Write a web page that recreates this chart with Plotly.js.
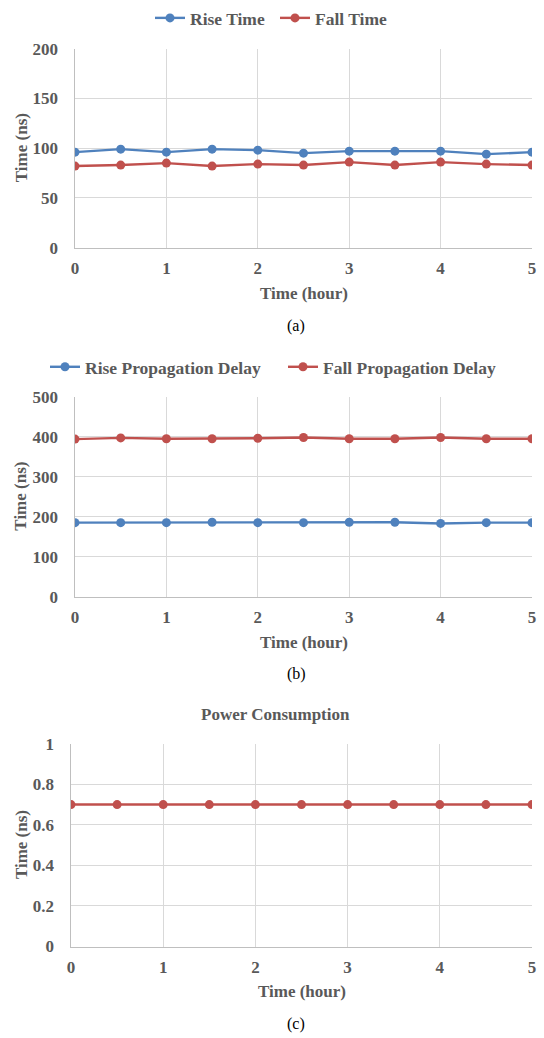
<!DOCTYPE html>
<html>
<head>
<meta charset="utf-8">
<script src="https://cdn.plot.ly/plotly-3.0.1.min.js"></script>
<style>html,body{margin:0;padding:0;background:#fff;}#chart{width:544px;height:1038px;}</style>
</head>
<body>
<div id="chart"></div>
<script>
// Shared x values (hours)
const hours = [0, 0.5, 1, 1.5, 2, 2.5, 3, 3.5, 4, 4.5, 5];
// (a) Rise / Fall time (ns)
const riseTime = [96, 99, 96, 99, 98, 95, 97, 97, 97, 94, 96];
const fallTime = [82, 83, 85, 82, 84, 83, 86, 83, 86, 84, 83];
// (b) Propagation delay (ns)
const risePropDelay = [185, 185, 185, 186, 185, 185, 186, 186, 183, 185, 185];
const fallPropDelay = [394, 397, 395, 395, 396, 398, 395, 395, 398, 395, 395];
// (c) Power consumption
const powerConsumption = [0.7, 0.7, 0.7, 0.7, 0.7, 0.7, 0.7, 0.7, 0.7, 0.7, 0.7];
// Labels
const seriesNamesA = ["Rise Time", "Fall Time"];
const seriesNamesB = ["Rise Propagation Delay", "Fall Propagation Delay"];
const titleC = "Power Consumption";
const xTitle = "Time (hour)";
const yTitle = "Time (ns)";
const captions = ["(a)", "(b)", "(c)"];

const W = 544, H = 1038;
const BLUE = "#4F81BD", RED = "#C0504D", GREY = "#595959";
const FONT = "Liberation Serif, Times New Roman, serif";
const py = p => 1 - p / H;
const px = p => p / W;

function line(x, y, name, color, xa, ya, legend, show) {
  return {x: x, y: y, name: name, type: "scatter", mode: "lines+markers",
    xaxis: xa, yaxis: ya, legend: legend, showlegend: show,
    line: {color: color, width: 2.4}, marker: {color: color, size: 9}};
}

const traces = [
  line(hours, riseTime, seriesNamesA[0], BLUE, "x", "y", "legend", true),
  line(hours, fallTime, seriesNamesA[1], RED, "x", "y", "legend", true),
  line(hours, risePropDelay, seriesNamesB[0], BLUE, "x2", "y2", "legend2", true),
  line(hours, fallPropDelay, seriesNamesB[1], RED, "x2", "y2", "legend2", true),
  line(hours, powerConsumption, titleC, RED, "x3", "y3", "legend", false)
];

function xax(domain, anchor) {
  return {domain: domain, anchor: anchor, range: [0, 5], dtick: 1, tick0: 0,
    showgrid: true, gridcolor: "#d9d9d9", gridwidth: 1, zeroline: false,
    showline: true, linecolor: "#bfbfbf", linewidth: 1.5, ticks: "",
    tickfont: {family: FONT, size: 17, color: GREY, weight: "bold"},
    ticklabelstandoff: 5};
}
function yax(domain, anchor, range, dtick) {
  return {domain: domain, anchor: anchor, range: range, dtick: dtick, tick0: 0,
    showgrid: true, gridcolor: "#d9d9d9", gridwidth: 1, zeroline: false,
    showline: true, linecolor: "#bfbfbf", linewidth: 1.5, ticks: "",
    tickfont: {family: FONT, size: 17, color: GREY, weight: "bold"},
    ticklabelstandoff: 12};
}

const legFont = {family: FONT, size: 17.5, color: GREY, weight: "bold"};
const titleFont = {family: FONT, size: 17, color: GREY};
const capFont = {family: FONT, size: 16, color: "#000"};

function ann(text, x, y, font, angle) {
  return {text: text, xref: "paper", yref: "paper", x: px(x), y: py(y),
    xanchor: "center", yanchor: "middle", showarrow: false, font: font,
    textangle: angle || 0};
}

// panel geometry (pixels): [top, bottom, left, right]
const panels = [[43, 243, 75, 532], [393, 594, 75, 532], [742, 946, 71, 532]];
const xTitleY = [289, 640, 991];
const captionY = [322, 672, 1024];

const annotations = [ann("<b>" + titleC + "</b>", 275, 713, titleFont)];
panels.forEach((p, i) => {
  annotations.push(ann("<b>" + xTitle + "</b>", (p[2] + p[3]) / 2, xTitleY[i], titleFont));
  annotations.push(ann("<b>" + yTitle + "</b>", 21, (p[0] + p[1]) / 2, titleFont, -90));
  annotations.push(ann(captions[i], 296, captionY[i], capFont));
});

const layout = {
  width: W, height: H,
  margin: {l: 0, r: 0, t: 0, b: 0},
  paper_bgcolor: "#fff", plot_bgcolor: "#fff",
  font: {family: FONT, color: GREY},
  xaxis: xax([px(panels[0][2]), px(panels[0][3])], "y"),
  yaxis: yax([py(panels[0][1]), py(panels[0][0])], "x", [0, 200], 50),
  xaxis2: xax([px(panels[1][2]), px(panels[1][3])], "y2"),
  yaxis2: yax([py(panels[1][1]), py(panels[1][0])], "x2", [0, 500], 100),
  xaxis3: xax([px(panels[2][2]), px(panels[2][3])], "y3"),
  yaxis3: yax([py(panels[2][1]), py(panels[2][0])], "x3", [0, 1], 0.2),
  legend: {orientation: "h", x: px(150), xanchor: "left", y: py(12), yanchor: "middle",
    font: legFont, bgcolor: "rgba(0,0,0,0)", itemwidth: 30, entrywidth: 80, entrywidthmode: "pixels"},
  legend2: {orientation: "h", x: px(45), xanchor: "left", y: py(363), yanchor: "middle",
    font: legFont, bgcolor: "rgba(0,0,0,0)", itemwidth: 30, entrywidth: 193, entrywidthmode: "pixels"},
  annotations: annotations,
  showlegend: true
};

Plotly.newPlot("chart", traces, layout, {displayModeBar: false, staticPlot: true});
</script>
</body>
</html>
